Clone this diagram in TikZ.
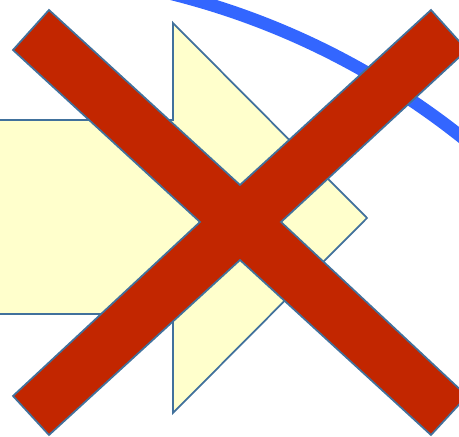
\documentclass[tikz,border=0pt]{standalone}
\usetikzlibrary{calc}
\definecolor{crossred}{RGB}{194,38,0}
\definecolor{edgeblue}{RGB}{65,113,156}
\definecolor{arcblue}{RGB}{51,102,255}
\definecolor{paleyellow}{RGB}{255,255,204}
\newcommand{\drawshape}{\draw[edgeblue, line width=0.5pt, line join=miter]}

\begin{document}
\begin{tikzpicture}[x=0.1cm, y=-0.1cm]
    \useasboundingbox (0,0) rectangle (45.9,43.7);

    % Draw arc
    \begin{scope}
        \clip (0,0) rectangle (45.9,43.7);
        \draw[arcblue, line width=3.6pt] (-1.5,73.8) circle (76.7);
    \end{scope}

    % Draw arrow
    \coordinate (headtop) at (17.3,2.3);
    \coordinate (tip) at (36.7,21.8);
    \coordinate (headbot) at (17.3,41.3);
    \drawshape[fill=paleyellow] (-1,12.0) -- (17.3,12.0) -- (headtop) -- (tip)
        -- (headbot) -- (17.3,31.4) -- (-1,31.4) -- cycle;

    % Draw cross
    \drawshape[fill=crossred] (4.9,1.0) -- (24.0,18.5) -- (43.1,1.0) -- (46.7,5.0)
        -- (28.1,22.2) -- (46.7,39.6) -- (43.1,43.5) -- (24.0,26.0)
        -- (4.9,43.5) -- (1.3,39.6) -- (20.0,22.2) -- (1.3,5.0) -- cycle;
\end{tikzpicture}
\end{document}
